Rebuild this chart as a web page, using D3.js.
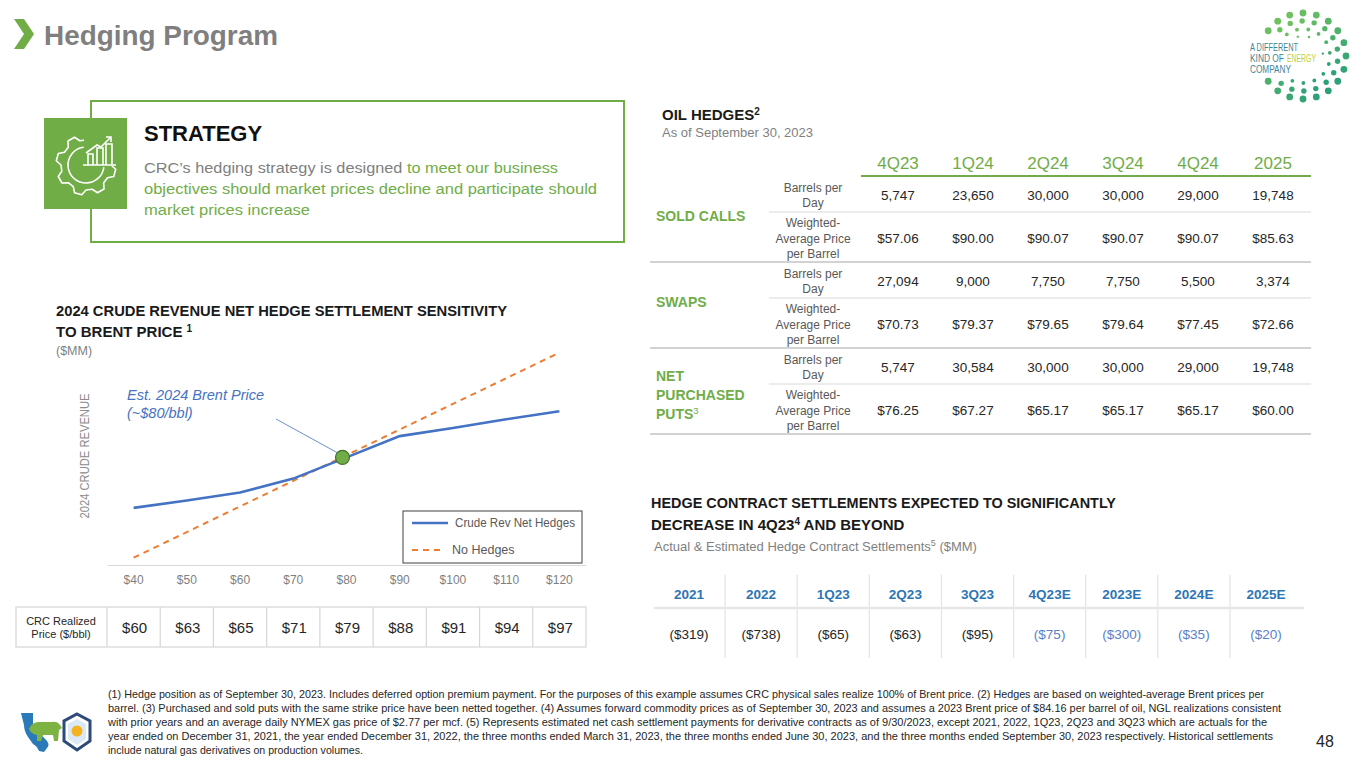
<!DOCTYPE html>
<html>
<head>
<meta charset="utf-8">
<script src="https://cdn.jsdelivr.net/npm/d3@7"></script>
<style>
  body { margin: 0; background: #fff; }
  svg { display: block; font-family: "Liberation Sans", Arial, sans-serif; }
</style>
</head>
<body>
<div id="slide"></div>
<script>
// ---- data ----
// sensitivity chart (revenue in $MM, no axis values shown on the slide)
const brentPrices = [40, 50, 60, 70, 80, 90, 100, 110, 120];
const revNetHedges = [1980, 2080, 2190, 2380, 2670, 2960, 3070, 3190, 3300];
const revNoHedges = [1300, 1650, 2000, 2350, 2700, 3050, 3400, 3750, 4100];
const realizedPrices = [60, 63, 65, 71, 79, 88, 91, 94, 97];
const estBrentPrice = 80;

// oil hedges table
const hedgePeriods = ["4Q23", "1Q24", "2Q24", "3Q24", "4Q24", "2025"];
const soldCallsVolume = [5747, 23650, 30000, 30000, 29000, 19748];
const soldCallsPrice = [57.06, 90.00, 90.07, 90.07, 90.07, 85.63];
const swapsVolume = [27094, 9000, 7750, 7750, 5500, 3374];
const swapsPrice = [70.73, 79.37, 79.65, 79.64, 77.45, 72.66];
const putsVolume = [5747, 30584, 30000, 30000, 29000, 19748];
const putsPrice = [76.25, 67.27, 65.17, 65.17, 65.17, 60.00];

// hedge settlements ($MM)
const settlementPeriods = ["2021", "2022", "1Q23", "2Q23", "3Q23", "4Q23E", "2023E", "2024E", "2025E"];
const settlementValues = [-319, -738, -65, -63, -95, -75, -300, -35, -20];
const settlementIsEstimate = [false, false, false, false, false, true, true, true, true];

const footnotes = [
  "(1) Hedge position as of September 30, 2023. Includes deferred option premium payment. For the purposes of this example assumes CRC physical sales realize 100% of Brent price. (2) Hedges are based on weighted-average Brent prices per",
  "barrel. (3) Purchased and sold puts with the same strike price have been netted together. (4) Assumes forward commodity prices as of September 30, 2023 and assumes a 2023 Brent price of $84.16 per barrel of oil, NGL realizations consistent",
  "with prior years and an average daily NYMEX gas price of $2.77 per mcf. (5) Represents estimated net cash settlement payments for derivative contracts as of 9/30/2023, except 2021, 2022, 1Q23, 2Q23 and 3Q23 which are actuals for the",
  "year ended on December 31, 2021, the year ended December 31, 2022, the three months ended March 31, 2023, the three months ended June 30, 2023, and the three months ended September 30, 2023 respectively. Historical settlements",
  "include natural gas derivatives on production volumes."
];
const footnoteWidths = [1156, 1173, 1159, 1165, 255];

// ---- colours ----
const green = "#70ad47", gray = "#7f7f7f", dark = "#262626",
      blue = "#4472c4", orange = "#ed7d31", headBlue = "#2e75b6";

const svg = d3.select("#slide").append("svg")
  .attr("width", 1365).attr("height", 768);

svg.append("rect").attr("width", 1365).attr("height", 768).attr("fill", "#fff");

// small helper for stretched text
function fit(t, w) {
  return t.attr("textLength", w).attr("lengthAdjust", "spacingAndGlyphs");
}

// ---- header ----
svg.append("path")
  .attr("d", "M14,19 L24,19 L34,34 L24,49 L14,49 L24,34 Z")
  .attr("fill", green);
fit(svg.append("text").attr("x", 44).attr("y", 45)
  .attr("font-size", 28).attr("font-weight", "bold").attr("fill", gray)
  .text("Hedging Program"), 234);

// company logo: ring of dots + tagline
const logo = svg.append("g");
const lcx = 1303, lcy = 56;
const rings = [
  {r: 43, n: 20, size: 3.4, off: 0},
  {r: 35, n: 18, size: 2.7, off: 0.15},
  {r: 27, n: 15, size: 1.9, off: 0.3},
  {r: 20, n: 11, size: 1.2, off: 0.45}
];
const dotColor = d3.interpolateRgb("#7cc75b", "#1f9a7e");
rings.forEach(ring => {
  d3.range(ring.n).forEach(i => {
    const a = ring.off + i * 2 * Math.PI / ring.n;
    const px = lcx + ring.r * Math.cos(a), py = lcy + ring.r * Math.sin(a);
    if (px < 1322 && py > 38 && py < 77) return; // leave room for the words
    const t = (Math.sin(a) + 1) / 2 * 0.6 + (Math.cos(a) + 1) / 2 * 0.4;
    logo.append("circle").attr("cx", px).attr("cy", py)
      .attr("r", ring.size).attr("fill", dotColor(t));
  });
});
const logoText = [
  {s: "A DIFFERENT", x: 1250, y: 51, w: 48, c: "#3f8595"},
  {s: "KIND OF", x: 1250, y: 62, w: 34, c: "#3f8595"},
  {s: "ENERGY", x: 1287, y: 62, w: 29, c: "#c2cf2e"},
  {s: "COMPANY", x: 1250, y: 73, w: 41, c: "#3f8595"}
];
logoText.forEach(l => {
  fit(logo.append("text").attr("x", l.x).attr("y", l.y)
    .attr("font-size", 10).attr("fill", l.c).text(l.s), l.w);
});

// ---- strategy box ----
svg.append("rect").attr("x", 91).attr("y", 101).attr("width", 533).attr("height", 141)
  .attr("fill", "none").attr("stroke", green).attr("stroke-width", 2);
svg.append("rect").attr("x", 44).attr("y", 118).attr("width", 83).attr("height", 91)
  .attr("fill", green);

// gear + bars icon
const icon = svg.append("g").attr("fill", "none").attr("stroke", "#fff")
  .attr("stroke-width", 1.6).attr("stroke-linejoin", "round");
const gcx = 86, gcy = 165, teeth = 8;
const gearPts = [];
d3.range(teeth).forEach(i => {
  const a0 = i * 2 * Math.PI / teeth, step = 2 * Math.PI / teeth;
  gearPts.push([a0, 25], [a0 + step * 0.18, 30], [a0 + step * 0.5, 30], [a0 + step * 0.68, 25]);
});
icon.append("path")
  .attr("d", d3.lineRadial().angle(d => d[0]).radius(d => d[1]).curve(d3.curveLinearClosed)(gearPts))
  .attr("transform", `translate(${gcx},${gcy})`);
icon.append("path")
  .attr("d", d3.arc().innerRadius(18).outerRadius(18).startAngle(Math.PI * 0.55).endAngle(Math.PI * 1.95)())
  .attr("transform", `translate(${gcx},${gcy})`);
svg.append("rect").attr("x", 84).attr("y", 131).attr("width", 32).attr("height", 35).attr("fill", green);
const icon2 = svg.append("g").attr("fill", "none").attr("stroke", "#fff").attr("stroke-width", 1.6);
icon2.append("path").attr("d", "M83,165 H116");
icon2.append("path").attr("d", "M88,165 V154 H93 V165 M97,165 V148 H103 V165 M106,165 V144 H112 V165");
icon2.append("path").attr("d", "M86,153 L97,145 L101,147 L111,137");
icon2.append("path").attr("d", "M106,137 H111 V142");

svg.append("text").attr("x", 144).attr("y", 141)
  .attr("font-size", 22).attr("font-weight", "bold").attr("fill", "#111").text("STRATEGY");
const stratLines = [
  {parts: [["CRC\u2019s hedging strategy is designed ", gray], ["to meet our business", green]], y: 173, w: 414},
  {parts: [["objectives should market prices decline and participate should", green]], y: 194, w: 453},
  {parts: [["market prices increase", green]], y: 215, w: 166}
];
stratLines.forEach(l => {
  const t = svg.append("text").attr("x", 144).attr("y", l.y).attr("font-size", 15.5);
  l.parts.forEach(p => t.append("tspan").attr("fill", p[1]).text(p[0]));
  fit(t, l.w);
});

// ---- sensitivity chart ----
const ch = svg.append("g");
fit(ch.append("text").attr("x", 56).attr("y", 316).attr("font-size", 15).attr("font-weight", "bold")
  .attr("fill", "#1a1a1a").text("2024 CRUDE REVENUE NET HEDGE SETTLEMENT SENSITIVITY"), 451);
const t2 = ch.append("text").attr("x", 56).attr("y", 337).attr("font-size", 15)
  .attr("font-weight", "bold").attr("fill", "#1a1a1a");
t2.append("tspan").text("TO BRENT PRICE ");
t2.append("tspan").attr("font-size", 10).attr("dy", -5).text("1");
ch.append("text").attr("x", 56).attr("y", 355).attr("font-size", 12.5).attr("fill", gray).text("($MM)");

fit(ch.append("text").attr("transform", "translate(89,456) rotate(-90)")
  .attr("text-anchor", "middle").attr("font-size", 13).attr("fill", "#8c8c8c")
  .text("2024 CRUDE REVENUE"), 125);

const x = d3.scaleBand().domain(brentPrices).range([107, 586]);
const xc = d => x(d) + x.bandwidth() / 2;
const y = d3.scaleLinear().domain([1200, 4300]).range([565, 338]);

const xAxis = ch.append("g").attr("transform", "translate(0,565)")
  .call(d3.axisBottom(x).tickSize(0).tickPadding(10).tickFormat(d => "$" + d));
xAxis.select(".domain").attr("stroke", "#d9d9d9").attr("stroke-width", 1.2);
xAxis.selectAll("text").attr("font-size", 12).attr("fill", gray)
  .attr("font-family", "'Liberation Sans', Arial, sans-serif");

const line = d3.line().x((d, i) => xc(brentPrices[i])).y(d => y(d));
ch.append("path").datum(revNoHedges).attr("d", line)
  .attr("fill", "none").attr("stroke", orange).attr("stroke-width", 2)
  .attr("stroke-dasharray", "6,5");
ch.append("path").datum(revNetHedges).attr("d", line)
  .attr("fill", "none").attr("stroke", blue).attr("stroke-width", 2.6);

// estimated brent marker + callout
const ei = brentPrices.indexOf(estBrentPrice);
const ex = xc(estBrentPrice) - 4, ey = y(revNetHedges[ei]);
ch.append("line").attr("x1", 276).attr("y1", 419).attr("x2", ex - 4).attr("y2", ey - 4)
  .attr("stroke", blue).attr("stroke-width", 0.8);
ch.append("circle").attr("cx", ex).attr("cy", ey).attr("r", 7)
  .attr("fill", green).attr("stroke", "#44702a").attr("stroke-width", 1.2);
ch.append("text").attr("x", 127).attr("y", 400).attr("font-size", 14.5)
  .attr("font-style", "italic").attr("fill", blue).text("Est. 2024 Brent Price");
ch.append("text").attr("x", 127).attr("y", 418).attr("font-size", 14.5)
  .attr("font-style", "italic").attr("fill", blue).text("(~$" + estBrentPrice + "/bbl)");

// legend
const lg = ch.append("g");
lg.append("rect").attr("x", 403).attr("y", 511).attr("width", 179).attr("height", 52)
  .attr("fill", "#fff").attr("stroke", "#404040").attr("stroke-width", 1);
lg.append("line").attr("x1", 412).attr("x2", 448).attr("y1", 523).attr("y2", 523)
  .attr("stroke", blue).attr("stroke-width", 2.6);
fit(lg.append("text").attr("x", 455).attr("y", 527).attr("font-size", 12.5).attr("fill", "#595959")
  .text("Crude Rev Net Hedges"), 120);
lg.append("line").attr("x1", 412).attr("x2", 445).attr("y1", 550).attr("y2", 550)
  .attr("stroke", orange).attr("stroke-width", 2).attr("stroke-dasharray", "6,5");
lg.append("text").attr("x", 452).attr("y", 554).attr("font-size", 12.5).attr("fill", "#595959")
  .text("No Hedges");

// realized price row
const rp = ch.append("g");
const rTop = 607, rBot = 647;
rp.append("rect").attr("x", 16).attr("y", rTop).attr("width", 570).attr("height", rBot - rTop)
  .attr("fill", "#fff").attr("stroke", "#d6d6d6").attr("stroke-width", 1.2);
rp.selectAll(".sep").data(brentPrices).enter().append("line")
  .attr("x1", d => x(d)).attr("x2", d => x(d)).attr("y1", rTop).attr("y2", rBot)
  .attr("stroke", "#d6d6d6").attr("stroke-width", 1.2);
rp.append("text").attr("x", 61).attr("y", 625).attr("text-anchor", "middle")
  .attr("font-size", 11).attr("fill", dark).text("CRC Realized");
rp.append("text").attr("x", 61).attr("y", 638).attr("text-anchor", "middle")
  .attr("font-size", 11).attr("fill", dark).text("Price ($/bbl)");
rp.selectAll(".val").data(realizedPrices).enter().append("text")
  .attr("x", (d, i) => xc(brentPrices[i]) + 1).attr("y", 633).attr("text-anchor", "middle")
  .attr("font-size", 15).attr("fill", dark).text(d => "$" + d);

// ---- oil hedges table ----
const oh = svg.append("g");
const ot = oh.append("text").attr("x", 662).attr("y", 120).attr("font-size", 15)
  .attr("font-weight", "bold").attr("fill", "#1a1a1a");
ot.append("tspan").text("OIL HEDGES");
ot.append("tspan").attr("font-size", 10).attr("dy", -5).text("2");
oh.append("text").attr("x", 662).attr("y", 137).attr("font-size", 13).attr("fill", gray)
  .text("As of September 30, 2023");

const hx = d3.scalePoint().domain(hedgePeriods).range([898, 1273]);
oh.selectAll(".hh").data(hedgePeriods).enter().append("text")
  .attr("x", d => hx(d)).attr("y", 169).attr("text-anchor", "middle")
  .attr("font-size", 17).attr("fill", green).text(d => d);
oh.append("line").attr("x1", 861).attr("x2", 1311).attr("y1", 176).attr("y2", 176)
  .attr("stroke", green).attr("stroke-width", 2);

const fmtVol = d3.format(",");
const fmtPx = d3.format("$.2f");
const groups = [
  {name: ["SOLD CALLS"], vol: soldCallsVolume, px: soldCallsPrice},
  {name: ["SWAPS"], vol: swapsVolume, px: swapsPrice},
  {name: ["NET", "PURCHASED", "PUTS"], vol: putsVolume, px: putsPrice}
];
groups.forEach((g, gi) => {
  const top = 176 + gi * 86;
  const r1 = top + 19, r2 = top + 62;
  // group label
  const nameY = r1 + (r2 - r1) / 2 + 4 - (g.name.length - 1) * 19 / 2 + (gi === 2 ? 7 : 0);
  g.name.forEach((n, ni) => {
    const t = oh.append("text").attr("x", 656).attr("y", nameY + ni * 19)
      .attr("font-size", 14).attr("font-weight", "bold").attr("fill", green).text(n);
    if (gi === 2 && ni === 2) t.append("tspan").attr("font-size", 9.5).attr("dy", -5)
      .attr("font-weight", "normal").text("3");
  });
  // row labels
  ["Barrels per", "Day"].forEach((s, i) => oh.append("text").attr("x", 813)
    .attr("y", r1 - 3 + i * 15).attr("text-anchor", "middle").attr("font-size", 12)
    .attr("fill", "#595959").text(s));
  ["Weighted-", "Average Price", "per Barrel"].forEach((s, i) => oh.append("text").attr("x", 813)
    .attr("y", r2 - 11 + i * 15.5).attr("text-anchor", "middle").attr("font-size", 12)
    .attr("fill", "#595959").text(s));
  // values
  oh.selectAll(".v1g" + gi).data(g.vol).enter().append("text")
    .attr("x", (d, i) => hx(hedgePeriods[i])).attr("y", r1 + 5).attr("text-anchor", "middle")
    .attr("font-size", 13.5).attr("fill", dark).text(d => fmtVol(d));
  oh.selectAll(".v2g" + gi).data(g.px).enter().append("text")
    .attr("x", (d, i) => hx(hedgePeriods[i])).attr("y", r2 + 5).attr("text-anchor", "middle")
    .attr("font-size", 13.5).attr("fill", dark).text(d => fmtPx(d));
  // rules
  oh.append("line").attr("x1", 769).attr("x2", 1311).attr("y1", top + 36).attr("y2", top + 36)
    .attr("stroke", "#d9d9d9").attr("stroke-width", 1.2);
  oh.append("line").attr("x1", 650).attr("x2", 1311).attr("y1", top + 86).attr("y2", top + 86)
    .attr("stroke", "#a6a6a6").attr("stroke-width", 1.2);
});

// ---- settlements ----
const st = svg.append("g");
fit(st.append("text").attr("x", 651).attr("y", 508).attr("font-size", 15).attr("font-weight", "bold")
  .attr("fill", "#1a1a1a").text("HEDGE CONTRACT SETTLEMENTS EXPECTED TO SIGNIFICANTLY"), 465);
const s2 = st.append("text").attr("x", 651).attr("y", 530).attr("font-size", 15)
  .attr("font-weight", "bold").attr("fill", "#1a1a1a");
s2.append("tspan").text("DECREASE IN 4Q23");
s2.append("tspan").attr("font-size", 10).attr("dy", -5).text("4");
s2.append("tspan").attr("dy", 5).text(" AND BEYOND");
const s3 = st.append("text").attr("x", 654).attr("y", 551).attr("font-size", 13).attr("fill", gray);
s3.append("tspan").text("Actual & Estimated Hedge Contract Settlements");
s3.append("tspan").attr("font-size", 9).attr("dy", -5).text("5");
s3.append("tspan").attr("dy", 5).text(" ($MM)");

const sx = d3.scalePoint().domain(settlementPeriods).range([689, 1266]);
const half = sx.step() / 2;
st.selectAll(".vs").data(settlementPeriods.slice(0, -1)).enter().append("line")
  .attr("x1", d => sx(d) + half).attr("x2", d => sx(d) + half)
  .attr("y1", 575).attr("y2", 658).attr("stroke", "#e3e3e3").attr("stroke-width", 1.2);
st.append("line").attr("x1", 654).attr("x2", 1304).attr("y1", 608).attr("y2", 608)
  .attr("stroke", "#e6e6e6").attr("stroke-width", 2.5);
st.selectAll(".sh").data(settlementPeriods).enter().append("text")
  .attr("x", d => sx(d)).attr("y", 599).attr("text-anchor", "middle")
  .attr("font-size", 13.5).attr("font-weight", "bold").attr("fill", headBlue).text(d => d);
st.selectAll(".sv").data(settlementValues).enter().append("text")
  .attr("x", (d, i) => sx(settlementPeriods[i])).attr("y", 639).attr("text-anchor", "middle")
  .attr("font-size", 13.5)
  .attr("fill", (d, i) => settlementIsEstimate[i] ? "#5b7fc7" : dark)
  .text(d => d < 0 ? "($" + Math.abs(d) + ")" : "$" + d);

// ---- footnotes & page number ----
footnotes.forEach((s, i) => {
  fit(svg.append("text").attr("x", 108).attr("y", 698 + i * 14).attr("font-size", 10.5)
    .attr("fill", dark).text(s), footnoteWidths[i]);
});
svg.append("text").attr("x", 1325).attr("y", 747).attr("text-anchor", "middle")
  .attr("font-size", 16).attr("fill", dark).text("48");

// bottom-left emblems
const em = svg.append("g");
em.append("path")
  .attr("d", "M21,713 L33,713 L33,726 L47,741 Q50,745 47,748 L44,752 L39,751 Q37,746 33,744 L28,737 Q24,731 24,725 Z")
  .attr("fill", "#2a7ab9");
em.append("path")
  .attr("d", "M29,729 Q31,723 38,722 L52,722 Q57,721 60,725 L62,728 L59,730 L58,741 L54,741 L53,735 L43,735 L41,741 L37,741 L37,735 Q31,734 29,729 Z")
  .attr("fill", "#7cb342");
em.append("path")
  .attr("d", "M77,714 L90,721 L90,741 L77,750 L64,741 L64,721 Z")
  .attr("fill", "none").attr("stroke", "#2d4a7a").attr("stroke-width", 3);
em.append("path")
  .attr("d", "M77,719 L86,724 L86,739 L77,745 L68,739 L68,724 Z")
  .attr("fill", "#dbe9f6");
em.append("circle").attr("cx", 77).attr("cy", 731).attr("r", 5.5).attr("fill", "#f5b323");
</script>
</body>
</html>
